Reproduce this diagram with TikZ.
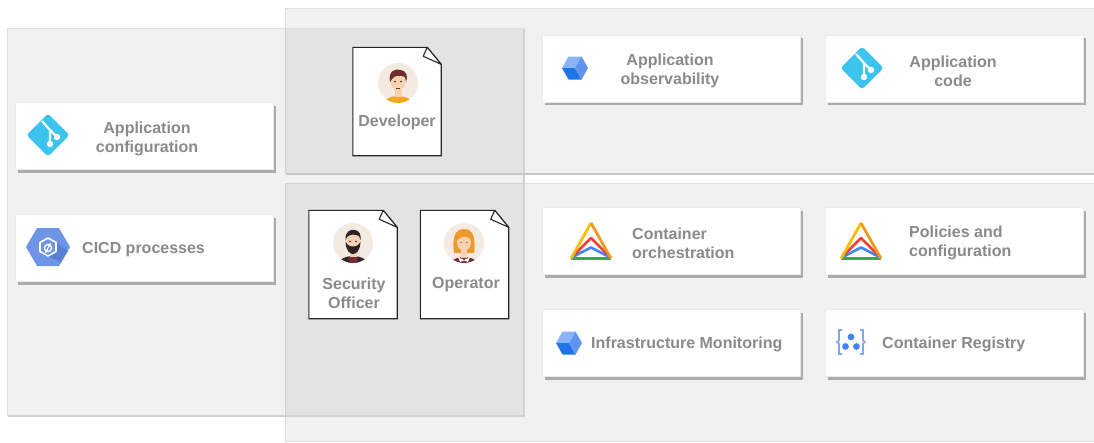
\documentclass[tikz,border=0pt]{standalone}
\usepackage{fontspec}
\setmainfont{Liberation Sans}
\usepackage{tikz}
\usetikzlibrary{positioning,shadows,calc}

\definecolor{txtgray}{HTML}{8A8A8A}
\definecolor{gitblue}{HTML}{3CC3EE}
\definecolor{hexblue}{HTML}{6D94E6}
\definecolor{hexdark}{HTML}{5A80D6}
\definecolor{cubelight}{HTML}{8AB4F8}
\definecolor{cubemid}{HTML}{5F93EE}
\definecolor{cubedark}{HTML}{1F74E6}
\definecolor{gyellow}{HTML}{FBBC04}
\definecolor{gorange}{HTML}{F29A1E}
\definecolor{gred}{HTML}{EA4335}
\definecolor{gblue}{HTML}{4285F4}
\definecolor{ggreen}{HTML}{34A853}
\definecolor{regblue}{HTML}{7FA8F3}
\definecolor{avbg}{HTML}{F3EAE1}
\definecolor{skin}{HTML}{F6D1B2}
\definecolor{devhair}{HTML}{6E2E2C}
\definecolor{devshirt}{HTML}{F2A91E}
\definecolor{darkhair}{HTML}{2C2422}
\definecolor{darkshirt}{HTML}{2E2A2B}
\definecolor{maroon}{HTML}{7A2B37}
\definecolor{redhair}{HTML}{EC9A2C}

% icons (y grows downwards, like the picture)
\tikzset{
  gitlogo/.pic={
    \fill[gitblue, rounded corners=3pt] (-21.5,0) -- (0,-21.5) -- (21.5,0) -- (0,21.5) -- cycle;
    \draw[white, line width=2.2pt] (-6,-14) -- (2,-5) -- (2,9);
    \draw[white, line width=2.2pt] (2,-5) -- (9,2);
    \fill[white] (2,9) circle (3.2) (9,2) circle (3.2);
  },
  buildhex/.pic={
    \fill[hexblue] (22,0) -- (11,19) -- (-11,19) -- (-22,0) -- (-11,-19) -- (11,-19) -- cycle;
    \fill[hexdark] (8,-4.5) -- (19.8,3.8) -- (13,15.5) -- (0,9) -- (8,4.5) -- cycle;
    \draw[white, line width=1.6pt, line join=round] (0,-9) -- (8,-4.5) -- (8,4.5) -- (0,9) -- (-8,4.5) -- (-8,-4.5) -- cycle;
    \draw[white, line width=1.3pt] (0,1) circle (3.6) (2.5,-4) -- (-2.5,6);
  },
  cube/.pic={
    \fill[cubelight] (0,0) -- (6.5,-11.5) -- (-6.5,-11.5) -- (-13,0) -- cycle;
    \fill[cubedark] (0,0) -- (-13,0) -- (-6.5,11.5) -- (6.5,11.5) -- cycle;
    \fill[cubemid] (0,0) -- (6.5,11.5) -- (13,0) -- (6.5,-11.5) -- cycle;
  },
  anthos/.pic={
    \draw[ggreen, line width=2.6pt] (-20,17.5) -- (20,17.5);
    \draw[gblue, line width=2.6pt, line join=round] (-18.5,16) -- (0,6.5) -- (18.5,16);
    \draw[gred, line width=2.6pt, line join=round] (-16.5,13.5) -- (0,-3) -- (16.5,13.5);
    \draw[gyellow, line width=2.8pt] (-20,17.5) -- (0,-18);
    \draw[gorange, line width=2.8pt] (0,-18) -- (20,17.5);
  },
  registry/.pic={
    \draw[regblue, line width=1.6pt] (-9,-12) -- (-12,-12) -- (-12,-1.5) -- (-14,0) -- (-12,1.5) -- (-12,12) -- (-9,12);
    \draw[regblue, line width=1.6pt] (9,-12) -- (12,-12) -- (12,-1.5) -- (14,0) -- (12,1.5) -- (12,12) -- (9,12);
    \fill[gblue] (0,-5) circle (3.4) (-5.5,4.5) circle (3.4) (5.5,4.5) circle (3.4);
  },
  % people
  dev/.pic={
    \fill[avbg] (0,0) circle (20);
    \begin{scope}
      \clip (0,0) circle (20);
      \fill[devshirt] (0,25) ellipse (17 and 12);
      \fill[skin] (-3.5,3) rectangle (3.5,14);
      \fill[skin] (0,-2) ellipse (7.5 and 9.5);
      \fill[devhair] (-8,-1) .. controls (-10,-12) and (-3,-15) .. (3,-13) .. controls (9,-12) and (10,-6) .. (8,-1) -- (7,-6) .. controls (3,-8) and (-4,-8) .. (-6,-4) -- cycle;
      \fill[darkhair] (-3,-1.5) circle (0.8) (3,-1.5) circle (0.8);
      \draw[maroon, line width=0.6pt] (-2,5) -- (2,5);
    \end{scope}
  },
  sec/.pic={
    \fill[avbg] (0,0) circle (20);
    \begin{scope}
      \clip (0,0) circle (20);
      \fill[darkshirt] (0,25) ellipse (17 and 12);
      \fill[maroon] (-5,14) -- (5,14) -- (3,22) -- (-3,22) -- cycle;
      \fill[skin] (-3.5,3) rectangle (3.5,14);
      \fill[skin] (0,-2) ellipse (7.5 and 9.5);
      \fill[darkhair] (-7.5,-1) .. controls (-7,8) and (-3,11) .. (0,11) .. controls (3,11) and (7,8) .. (7.5,-1) -- (5,2) .. controls (3,4) and (-3,4) .. (-5,2) -- cycle;
      \fill[darkhair] (-7.5,-3) .. controls (-8,-12) and (-2,-14) .. (2,-13) .. controls (7,-12) and (8,-8) .. (7.5,-3) -- (6,-7) .. controls (2,-9) and (-3,-9) .. (-6,-6) -- cycle;
      \fill[darkhair] (-3,-1.5) circle (0.8) (3,-1.5) circle (0.8);
    \end{scope}
  },
  ops/.pic={
    \fill[avbg] (0,0) circle (20);
    \begin{scope}
      \clip (0,0) circle (20);
      \fill[redhair] (-10,10) .. controls (-12,-6) and (-9,-14) .. (0,-14) .. controls (9,-14) and (12,-6) .. (10,10) -- cycle;
      \fill[maroon] (0,25) ellipse (16 and 11);
      \fill[white] (-6,14) -- (0,17) -- (6,14) -- (4,19) -- (0,17.5) -- (-4,19) -- cycle;
      \fill[skin] (-3,3) rectangle (3,15);
      \fill[skin] (0,-1) ellipse (7 and 9);
      \fill[redhair] (-7.5,-2) .. controls (-8,-10) and (-3,-12) .. (1,-11) .. controls (6,-10) and (8,-7) .. (7.5,-2) .. controls (4,-8) and (-2,-8) .. (-7.5,-2) -- cycle;
      \fill[darkhair] (-3,-0.5) circle (0.7) (3,-0.5) circle (0.7);
    \end{scope}
  },
}

% persona card with a folded corner
\newcommand{\notecard}[1]{%
  \filldraw[fill=white, draw=black!85, line width=1.1pt] (#1.north west) -- ([xshift=-14pt]#1.north east) -- ([yshift=-17pt]#1.north east) -- (#1.south east) -- (#1.south west) -- cycle;
  \filldraw[fill=white, draw=black!85, line width=1.1pt, line join=round] ([xshift=-14pt]#1.north east) -- ([yshift=-17pt]#1.north east) -- ([xshift=-18pt,yshift=-9pt]#1.north east) -- cycle;}

\begin{document}
\begin{tikzpicture}[x=1pt, y=-1pt,
    panel/.style={fill=black, fill opacity=0.055, draw=black!13, line width=0.8pt},
    card/.style={draw=black!8, fill=white, minimum width=258pt, minimum height=67pt, inner sep=0pt,
      drop shadow={shadow xshift=2.5pt, shadow yshift=-3pt, fill=black!33, opacity=1}},
    who/.style={minimum width=88pt, minimum height=108pt, inner sep=0pt},
    lbl/.style={font=\fontsize{16}{19}\selectfont\bfseries, text=txtgray, align=center, inner sep=0pt},
    lbll/.style={lbl, align=left, anchor=west}]
  \useasboundingbox (0,0) rectangle (1094,442);
  \fill[white] (0,0) rectangle (1094,442);

  % the three areas
  \path[panel] (285,8) rectangle (1100,173);
  \path[panel] (285,183) rectangle (1100,441);
  \path[panel] (7,28) rectangle (523,415);
  \draw[black!18, line width=2pt] (524,29) -- (524,416) -- (8,416);
  \draw[black!22, line width=2pt] (286,174) -- (1094,174);

  % left column
  \node[card] (cfg) at (144,136) {};
  \node[card] (cicd) at (144,248) {};
  \pic at (48,135) {gitlogo};
  \pic at (48,247) {buildhex};
  \node[lbl] (tcfg) at (147,138.5) {Application\\configuration};
  \node[lbll] (tcicd) at (82,249.5) {CICD processes};

  % right column
  \node[card] (obs) at (671,68.5) {};
  \node[card] (code) at (954,68.5) {};
  \node[card] (orch) at (671,241) {};
  \node[card] (pol) at (954,241) {};
  \node[card] (mon) at (671,343) {};
  \node[card] (reg) at (954,343) {};
  \pic at (575,68) {cube};
  \pic at (862,68) {gitlogo};
  \pic at (591,241) {anthos};
  \pic at (861,241) {anthos};
  \pic at (569,343) {cube};
  \pic at (851,342) {registry};
  \node[lbl] (tobs) at (670,71) {Application\\observability};
  \node[lbl] (tcode) at (953,71) {Application\\code};
  \node[lbll] (torch) at (632,243) {Container\\ orchestration};
  \node[lbll] (tpol) at (909,243) {Policies and\\configuration};
  \node[lbll] (tmon) at (591,344.5) {Infrastructure Monitoring};
  \node[lbll] (treg) at (882,344.5) {Container Registry};

  % people
  \node[who] (dev) at (397,101.5) {};
  \node[who] (sec) at (353,264.5) {};
  \node[who] (ops) at (464.5,264.5) {};
  \notecard{dev}
  \notecard{sec}
  \notecard{ops}
  \pic at (398,83) {dev};
  \pic at (353,243) {sec};
  \pic at (464,243) {ops};
  \node[lbl] (tdev) at (397,122.5) {Developer};
  \node[lbl] (tsec) at (354,293.5) {Security\\Officer};
  \node[lbl] (tops) at (466,284.5) {Operator};
\end{tikzpicture}
\end{document}
